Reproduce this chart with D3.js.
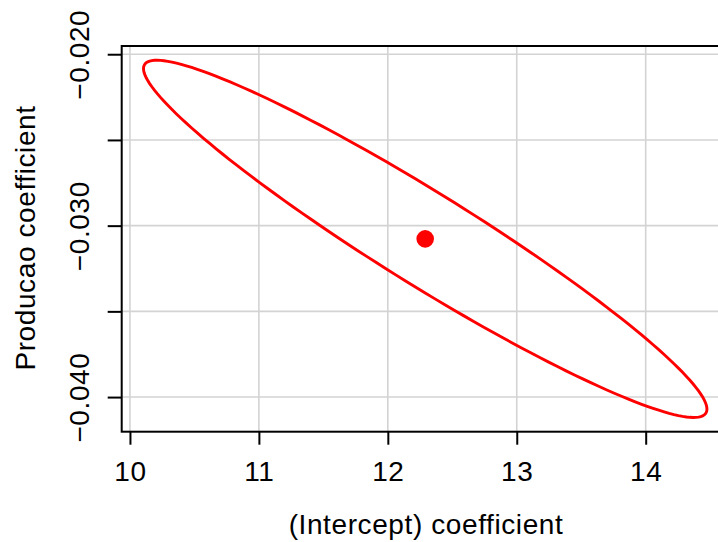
<!DOCTYPE html>
<html>
    <head>
        <style>
            body { margin: 0; background: #ffffff; }
            text { font-family: "Liberation Sans", Arial, sans-serif; fill: #000000; }
        </style>
    </head>
    <body>
        <script src="https://cdn.jsdelivr.net/npm/d3@7"></script>
        <script type="text/javascript">
            // coefficient estimates (Intercept, Producao)
            var estimate = [12.29, -0.03077];
            // half extent of the confidence ellipse along each axis, and the correlation
            var halfExtent = [2.185, 0.01042];
            var correlation = [-0.953];
            // axis ticks and labels
            var xTicks = [10, 11, 12, 13, 14];
            var yTicks = [-0.020, -0.025, -0.030, -0.035, -0.040];
            var yTickLabels = ['\u22120.020', '', '\u22120.030', '', '\u22120.040'];
            var xTitle = '(Intercept) coefficient';
            var yTitle = 'Producao coefficient';

            var svgWidth = 718, svgHeight = 542;
            var fontSize = 28, spacing = 0.6;
            var svg = d3.select('body')
                .append('svg')
                .attr('width', svgWidth)
                .attr('height', svgHeight);

            var plot = { left: 121.7, top: 46, right: 729.5, bottom: 431.7 };

            var xScale = d3.scaleLinear()
                .domain([9.936, 14.65])
                .range([plot.left, plot.right]);
            var yScale = d3.scaleLinear()
                .domain([-0.04202, -0.01952])
                .range([plot.bottom, plot.top]);

            // grid
            var grid = svg.append('g')
                .attr('stroke', '#d3d3d3')
                .attr('stroke-width', 1.6);
            grid.selectAll('line.vx')
                .data(xTicks)
                .enter()
                .append('line')
                .attr('x1', function(d) { return xScale(d); })
                .attr('x2', function(d) { return xScale(d); })
                .attr('y1', plot.top)
                .attr('y2', plot.bottom);
            grid.selectAll('line.hy')
                .data(yTicks)
                .enter()
                .append('line')
                .attr('x1', plot.left)
                .attr('x2', plot.right)
                .attr('y1', function(d) { return yScale(d); })
                .attr('y2', function(d) { return yScale(d); });

            // ellipse: x = cx + sx cos t, y = cy + sy cos(t + delta), cos(delta) = r
            var delta = Math.acos(correlation[0]);
            var angles = d3.range(0, 361, 2).map(function(a) { return a * Math.PI / 180; });
            var line = d3.line()
                .x(function(t) { return xScale(estimate[0] + halfExtent[0] * Math.cos(t)); })
                .y(function(t) { return yScale(estimate[1] + halfExtent[1] * Math.cos(t + delta)); })
                .curve(d3.curveLinearClosed);
            svg.append('path')
                .datum(angles)
                .attr('d', line)
                .attr('fill', 'none')
                .attr('stroke', '#ff0000')
                .attr('stroke-width', 2.9);

            svg.append('circle')
                .attr('cx', xScale(estimate[0]))
                .attr('cy', yScale(estimate[1]))
                .attr('r', 8.8)
                .attr('fill', '#ff0000');

            // axes
            var xAxis = d3.axisBottom(xScale)
                .tickValues(xTicks)
                .tickSize(13)
                .tickPadding(16)
                .tickFormat(d3.format('d'));
            var xAxisNodes = svg.append('g')
                .attr('transform', 'translate(0,' + plot.bottom + ')')
                .call(xAxis);
            xAxisNodes.select('.domain').remove();
            xAxisNodes.selectAll('.tick line').attr('stroke', '#000').attr('stroke-width', 2);
            xAxisNodes.selectAll('.tick text')
                .attr('font-size', fontSize)
                .attr('letter-spacing', spacing)
                .attr('font-family', '"Liberation Sans", Arial, sans-serif');

            var yAxis = d3.axisLeft(yScale)
                .tickValues(yTicks)
                .tickSize(14)
                .tickFormat(function(d, i) { return yTickLabels[i]; });
            var yAxisNodes = svg.append('g')
                .attr('transform', 'translate(' + plot.left + ',0)')
                .call(yAxis);
            yAxisNodes.select('.domain').remove();
            yAxisNodes.selectAll('.tick line').attr('stroke', '#000').attr('stroke-width', 2);
            yAxisNodes.selectAll('.tick text')
                .attr('font-size', fontSize)
                .attr('letter-spacing', spacing)
                .attr('font-family', '"Liberation Sans", Arial, sans-serif')
                .attr('x', null)
                .attr('dy', null)
                .attr('text-anchor', 'middle')
                .attr('transform', 'translate(-32.5,0) rotate(-90)');

            // box (right side falls outside the window)
            svg.append('rect')
                .attr('x', plot.left)
                .attr('y', plot.top)
                .attr('width', plot.right - plot.left)
                .attr('height', plot.bottom - plot.top)
                .attr('fill', 'none')
                .attr('stroke', '#000')
                .attr('stroke-width', 2);

            svg.append('text')
                .attr('x', 426)
                .attr('y', 534)
                .attr('text-anchor', 'middle')
                .attr('font-size', fontSize)
                .attr('letter-spacing', spacing)
                .text(xTitle);
            svg.append('text')
                .attr('transform', 'translate(35,' + 238 + ') rotate(-90)')
                .attr('text-anchor', 'middle')
                .attr('font-size', fontSize)
                .attr('letter-spacing', spacing)
                .text(yTitle);
        </script>
    </body>
</html>
